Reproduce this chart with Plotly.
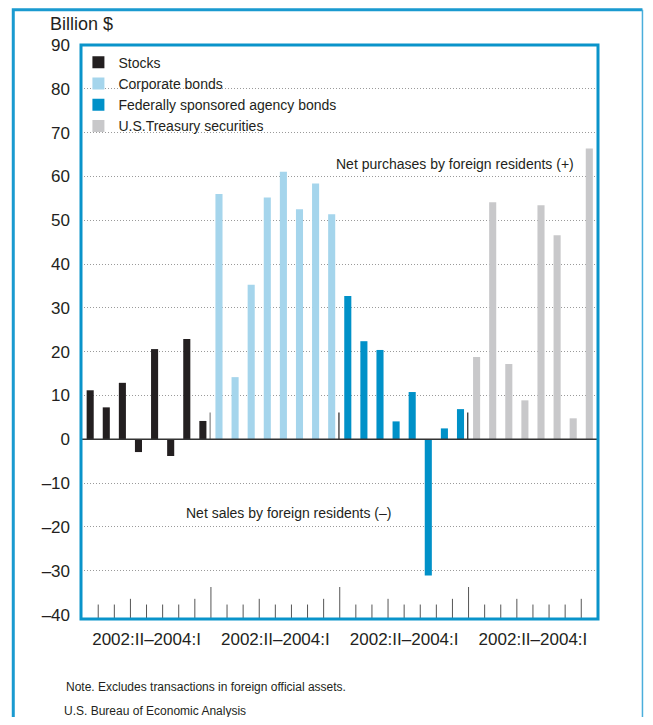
import plotly.graph_objects as go

# --- data (billion $, quarterly net purchases) ---
PERIODS = ["2002:II", "2002:III", "2002:IV", "2003:I", "2003:II", "2003:III", "2003:IV", "2004:I"]
SERIES = ["Stocks", "Corporate bonds", "Federally sponsored agency bonds", "U.S.Treasury securities"]
stocks = [11.2, 7.3, 12.9, -2.9, 20.6, -3.8, 22.9, 4.2]
corporate_bonds = [56.0, 14.2, 35.3, 55.2, 61.1, 52.5, 58.4, 51.4]
agency_bonds = [32.7, 22.4, 20.4, 4.1, 10.8, -31.1, 2.5, 6.9]
treasury = [18.8, 54.1, 17.2, 8.9, 53.4, 46.6, 4.8, 66.4]
GROUP_LABEL = "2002:II\u20132004:I"
Y_TICKS = list(range(-40, 100, 10))

COLORS = ["#231f20", "#a5d5ec", "#0091c8", "#c8c8ca"]
BLUE = "#0a94ca"
FONT = "Liberation Sans, Arial, sans-serif"
TXT = "#231f20"

n = len(PERIODS)
values = [stocks, corporate_bonds, agency_bonds, treasury]

fig = go.Figure()
for g, (name, vals, col) in enumerate(zip(SERIES, values, COLORS)):
    fig.add_trace(go.Bar(
        x=[g * n + i for i in range(n)],
        y=vals,
        name=name,
        marker=dict(color=col, line=dict(width=0)),
        width=0.44,
    ))

shapes = []
# small tick marks along the bottom: quarters short, year breaks medium, group breaks long
for g in range(len(SERIES)):
    for i in range(n):
        pos = g * n + i + 0.5
        if pos > len(SERIES) * n - 1:
            continue
        if i == n - 1:
            h = 7.3
        elif PERIODS[i + 1].endswith(":I"):
            h = 4.6
        else:
            h = 3.3
        shapes.append(dict(type="line", xref="x", yref="y", x0=pos, x1=pos, y0=-41, y1=-41 + h,
                           line=dict(color="#555555", width=1), layer="above"))
# short separators at the baseline between groups
for g in range(1, len(SERIES)):
    pos = g * n - 0.55
    shapes.append(dict(type="line", xref="x", yref="y", x0=pos, x1=pos, y0=0, y1=6.1,
                       line=dict(color="#8a8a8a" if g == 1 else "#333333", width=1.3), layer="above"))
# zero line over the bars
shapes.append(dict(type="line", xref="paper", yref="y", x0=0, x1=1, y0=0, y1=0,
                   line=dict(color="#333333", width=1.5), layer="above"))
# plot frame
shapes.append(dict(type="rect", xref="paper", yref="paper", x0=0, x1=1, y0=0, y1=1,
                   line=dict(color=BLUE, width=3), layer="above"))
# outer panel frame
shapes.append(dict(type="path", xref="paper", yref="paper",
                   path="M -0.131,-0.25 L -0.131,1.0615 L 1.086,1.0615",
                   line=dict(color="#1a9ad0", width=3)))
shapes.append(dict(type="line", xref="paper", yref="paper", x0=1.086, x1=1.086, y0=1.0615, y1=-0.25,
                   line=dict(color="#4aaedb", width=1.5)))

annotations = [
    dict(text="Billion $", xref="paper", yref="paper", x=0.0, y=1.036,
         xanchor="center", yanchor="middle", showarrow=False, font=dict(size=18)),
    dict(text="Net purchases by foreign residents (+)", xref="x", yref="y", x=30.2, y=62.8,
         xanchor="right", yanchor="middle", showarrow=False, font=dict(size=14)),
    dict(text="Net sales by foreign residents (\u2013)", xref="x", yref="y", x=5.8, y=-16.8,
         xanchor="left", yanchor="middle", showarrow=False, font=dict(size=14)),
    dict(text="Note. Excludes transactions in foreign official assets.", xref="paper", yref="paper",
         x=-0.032, y=-0.118, xanchor="left", yanchor="middle", showarrow=False, font=dict(size=12)),
    dict(text="U.S. Bureau of Economic Analysis", xref="paper", yref="paper",
         x=-0.037, y=-0.161, xanchor="left", yanchor="middle", showarrow=False, font=dict(size=12)),
]

# the page body adds an 8 px offset, so the figure is drawn smaller to fit the window
fig.update_layout(
    width=645, height=709,
    margin=dict(l=73, r=55, t=37, b=98),
    paper_bgcolor="white", plot_bgcolor="white",
    font=dict(family=FONT, color=TXT),
    barmode="overlay",
    showlegend=True,
    legend=dict(x=-0.005, y=0.997, xanchor="left", yanchor="top", bgcolor="rgba(0,0,0,0)",
                font=dict(size=14), tracegroupgap=0, traceorder="normal"),
    shapes=shapes,
    annotations=annotations,
)
fig.update_xaxes(
    range=[-0.57, 31.54], tickvals=[g * n + (n - 1) / 2 for g in range(len(SERIES))],
    ticktext=[GROUP_LABEL] * len(SERIES), ticks="", showgrid=False, zeroline=False,
    tickfont=dict(size=17), ticklabelstandoff=8,
)
fig.update_yaxes(
    range=[-41, 90], tickvals=Y_TICKS,
    ticktext=[str(v).replace("-", "\u2013") for v in Y_TICKS],
    showgrid=False, zeroline=False, ticks="", tickfont=dict(size=17), ticklabelstandoff=10,
    minor=dict(tickvals=[v for v in Y_TICKS if -40 < v < 90], showgrid=True,
               gridcolor="#9a9a9a", griddash="1px,2px", gridwidth=1, ticks=""),
)

fig.write_html("out.html")
